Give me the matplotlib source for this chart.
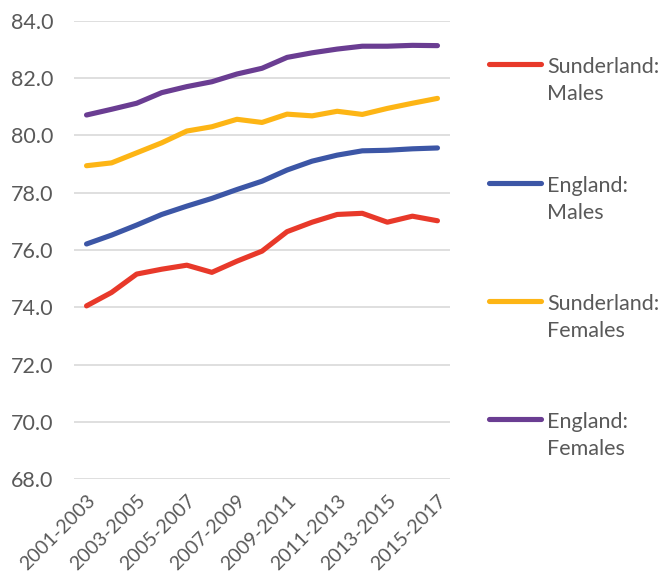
import matplotlib
matplotlib.use("Agg")
import matplotlib.pyplot as plt
from matplotlib.lines import Line2D

periods = [f"{y}-{y + 2}" for y in range(2001, 2016)]

sunderland_males = [74.05, 74.52, 75.16, 75.33, 75.47, 75.22, 75.61, 75.96,
                    76.64, 76.97, 77.24, 77.28, 76.97, 77.18, 77.02]
england_males = [76.21, 76.52, 76.87, 77.24, 77.53, 77.80, 78.11, 78.40,
                 78.79, 79.10, 79.31, 79.46, 79.48, 79.53, 79.56]
sunderland_females = [78.94, 79.04, 79.39, 79.74, 80.15, 80.30, 80.56, 80.45,
                      80.74, 80.68, 80.84, 80.73, 80.94, 81.12, 81.29]
england_females = [80.71, 80.91, 81.12, 81.49, 81.70, 81.87, 82.14, 82.34,
                   82.72, 82.88, 83.01, 83.11, 83.11, 83.14, 83.13]

series_labels = ["Sunderland:\nMales", "England:\nMales",
                 "Sunderland:\nFemales", "England:\nFemales"]
series_values = [sunderland_males, england_males, sunderland_females, england_females]
series_colors = ["#E8392A", "#3C56A6", "#FDB515", "#6A3D92"]

y_ticks = [68, 70, 72, 74, 76, 78, 80, 82, 84]

text_color = "#595959"
font_size = 15.5
plt.rcParams["font.family"] = ["Lato", "DejaVu Sans"]

fig = plt.figure(figsize=(6.64, 5.84), dpi=100)
ax = fig.add_axes([74 / 664, 1 - 479.3 / 584, 376 / 664, (479.3 - 20.7) / 584])

x = list(range(len(periods)))
for vals, col in zip(series_values, series_colors):
    ax.plot(x, vals, color=col, lw=3.7, solid_capstyle="round",
            solid_joinstyle="round", zorder=3)

ax.set_xlim(-0.5, len(periods) - 0.5)
ax.set_ylim(68, 84)
ax.set_yticks(y_ticks)
ax.set_yticklabels([f"{v:.1f}" for v in y_ticks], fontsize=font_size, color=text_color)
ax.yaxis.grid(True, color="#D9D9D9", lw=1.2)
ax.set_axisbelow(True)

shown = x[::2]
ax.set_xticks(shown)
ax.set_xticklabels([periods[i] for i in shown], rotation=45, ha="right",
                   rotation_mode="anchor", fontsize=14, color=text_color)
ax.tick_params(axis="both", length=0)
ax.tick_params(axis="x", pad=9)
ax.tick_params(axis="y", pad=15)
for s in ax.spines.values():
    s.set_visible(False)

# Legend drawn beside the plot, one entry per series
legend_rows = [64, 183, 301, 419]
line_gap = 27
for row, lab, col in zip(legend_rows, series_labels, series_colors):
    yf = 1 - row / 584
    fig.add_artist(Line2D([489 / 664, 541 / 664], [yf, yf], color=col, lw=3.7,
                          solid_capstyle="round", transform=fig.transFigure))
    for k, part in enumerate(lab.split("\n")):
        base = row + 9 + k * line_gap
        fig.text(547 / 664, 1 - base / 584, part, fontsize=font_size,
                 color=text_color, va="baseline", ha="left")

fig.savefig("out.png", dpi=100, facecolor="white")
